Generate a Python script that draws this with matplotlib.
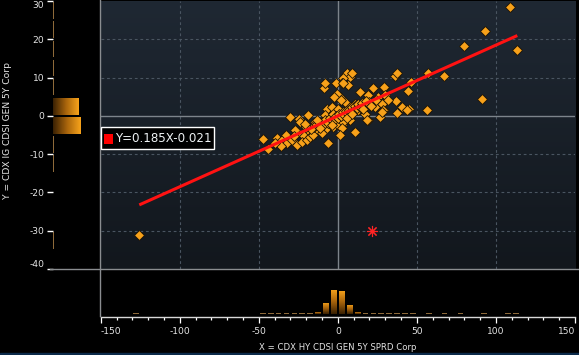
import numpy as np
import matplotlib
matplotlib.use("Agg")
import matplotlib.pyplot as plt
from matplotlib.colors import LinearSegmentedColormap
from matplotlib.patches import Rectangle
from matplotlib.lines import Line2D

plt.rcParams['font.family'] = ['Liberation Sans Narrow', 'DejaVu Sans Condensed', 'DejaVu Sans']
plt.rcParams['axes.unicode_minus'] = False

# ---------------- data ----------------
x_vals = [-125.6, 108.9, 93.3, 80.0, 113.5, 67.3, 56.8, 91.4, 56.6, 45.2,
          44.6, 36.8, 40.4, 37.2, 36.1, 37.6, 29.2, 29.2, 46.3, 43.5,
          22.4, 29.4, 14.0, 19.3, 25.6, 29.8, 31.9, 27.7, 23.5, 28.7,
          26.7, 19.3, 17.2, 12.9, 10.8, 7.7, 4.5, 1.4, -0.7, 7.7,
          10.8, 18.2, 2.4, 27.7, 5.6, 7.7, 3.4, 6.6, 2.4, 8.8,
          -8.6, -8.1, -1.2, 3.1, -2.2, 2.0, -47.2, -44.2, -30.3, -24.6,
          -23.9, -19.1, -7.1, -3.9, -8.1, -5.0, -1.8, 1.4, 0.3, -14.5,
          -11.3, -16.5, -13.4, -18.7, -21.9, -25.0, -27.1, -38.7, -35.5, -32.4,
          -29.2, -26.0, -22.9, -19.7, -17.6, -15.5, -10.2, -7.1, -2.9, 0.3,
          3.4, -6.0, 2.4, 1.4,
          -12, -10, -9, -8, -6, -5, -4, -3, -2, -1,
          0, 1, 2, 3, 4, 5, 6, 7, 8, 9,
          10, 11, 12, 13, 14, 15, -15, -17, -20, -21,
          -13, -11, -4, 6, 9, 16, 20, 21, 18, 24,
          -33, -28, -36, -40]
y_vals = [-31.0, 28.5, 22.1, 18.3, 17.3, 10.4, 11.2, 4.5, 1.5, 1.7,
          6.5, 3.8, 2.3, 0.8, 10.4, 11.2, 7.4, 1.5, 8.9, 1.5,
          7.2, 7.6, 6.3, 5.4, 5.0, 5.4, 4.1, 3.2, 2.3, 1.5,
          -0.3, -1.1, 0.6, 1.5, 3.2, 2.3, 3.7, 5.0, 5.8, -1.1,
          -4.2, -1.1, -2.4, 1.0, 11.1, 10.2, 9.8, 8.0, 8.5, 11.1,
          7.2, 8.5, 8.6, 8.6, 5.0, 4.1, -6.0, -8.6, -0.3, -0.7,
          -1.6, 0.2, 1.9, 2.3, 0.2, -0.7, 0.2, 1.0, 1.9, -1.6,
          -2.0, -2.9, -3.7, -4.2, -5.0, -4.2, -3.7, -5.9, -6.3, -7.2,
          -6.3, -7.6, -6.8, -6.3, -5.5, -5.0, -4.6, -3.3, -2.9, -2.4,
          -1.6, -7.2, -3.3, -5.0,
          -2.5, -1.5, -2.2, -1.0, -1.8, -0.5, -1.2, 0.5, -0.8, 0.0,
          -0.5, 0.4, 0.0, 1.0, 0.3, 1.2, 0.8, 1.6, 1.0, 2.2,
          1.5, 2.5, 2.0, 3.0, 2.2, 3.3, -3.0, -3.5, -3.0, -2.2,
          -1.0, -3.2, -2.5, -0.5, 0.5, 1.8, 3.5, 2.5, 4.0, 4.2,
          -5.0, -5.2, -7.8, -7.0]

fit_slope = 0.185
fit_intercept = -0.021

star_x = [21.4]
star_y = [-30.0]

# X histogram: bin left edges (width 5) and bar heights in % of the tallest bar
x_bin_left = [-130, -50, -45, -40, -35, -30, -25, -20, -15, -10, -5, 0, 5, 10,
              15, 20, 25, 30, 35, 40, 45, 55, 65, 75, 90, 105, 110]
x_bin_pct = [4, 4, 4, 4, 4, 4, 4, 4, 11, 48, 100, 96, 38, 10,
             4, 4, 4, 4, 4, 4, 4, 4, 4, 4, 4, 4, 4]

# Y histogram: bin lower edges (width 5) and bar lengths in % of the longest bar
y_bin_low = [-35, -15, -10, -5, 0, 5, 10, 15, 20, 25]
y_bin_pct = [3.7, 3.7, 3.7, 100, 93, 3.7, 3.7, 3.7, 3.7, 3.7]

x_ticks = [-150, -100, -50, 0, 50, 100, 150]
y_ticks = [-40, -30, -20, -10, 0, 10, 20, 30]
x_label = "X = CDX HY CDSI GEN 5Y SPRD Corp"
y_label = "Y = CDX IG CDSI GEN 5Y Corp"

# ---------------- figure ----------------
W, H = 579, 355
fig = plt.figure(figsize=(W / 100, H / 100), dpi=100, facecolor='black')


def box(x0, y0, x1, y1):
    return [x0 / W, 1 - y1 / H, (x1 - x0) / W, (y1 - y0) / H]


ax = fig.add_axes(box(100.7, 1, 575, 269))
axl = fig.add_axes(box(52.5, 1, 100.7, 269))
axb = fig.add_axes(box(100.7, 269, 575, 316.7))

txt_col = '#e4e4e4'

# main scatter panel
bg_cmap = LinearSegmentedColormap.from_list('bg', ['#1f2833', '#12171d'])
ax.imshow(np.linspace(0, 1, 200).reshape(-1, 1), extent=[-150, 150, -40, 30],
          origin='upper', aspect='auto', cmap=bg_cmap, zorder=0)
for v in [-100, -50, 50, 100]:
    ax.axvline(v, color='#4a5561', lw=0.8, ls=(0, (2.5, 2.5)), zorder=1)
for v in [20, 10, -10, -20, -30]:
    ax.axhline(v, color='#4a5561', lw=0.8, ls=(0, (2.5, 2.5)), zorder=1)
ax.axvline(0, color='#7d848b', lw=1.0, zorder=1)
ax.axhline(0, color='#7d848b', lw=1.0, zorder=1)

ax.plot(x_vals, y_vals, ls='', marker='D', ms=4.6, mfc='#f7a11a',
        mec='#1a1205', mew=0.6, zorder=3)
xs = np.array([min(x_vals), max(x_vals)])
ax.plot(xs, fit_slope * xs + fit_intercept, color='#ff1212', lw=2.2,
        solid_capstyle='butt', zorder=4)
ax.plot(star_x, star_y, ls='', marker=(8, 2, 0), ms=8, color='#ff2424',
        mew=0.8, zorder=4)
ax.set_xlim(-150, 150)
ax.set_ylim(-40, 30)
ax.set_xticks([])
ax.set_yticks([])
for s in ax.spines.values():
    s.set_visible(False)

# histogram gradient
bar_cmap = LinearSegmentedColormap.from_list('bar', ['#3a2103', '#a8640c', '#f7a31b'])
dash_col = '#8e6a3a'


def paint(axh, bars, vals, horizontal):
    for b, v in zip(bars, vals):
        if v < 8:
            b.set_facecolor(dash_col)
            continue
        x0, y0 = b.get_x(), b.get_y()
        w, h = b.get_width(), b.get_height()
        arr = np.linspace(0, 1, 64).reshape(1, -1) if horizontal else np.linspace(0, 1, 64).reshape(-1, 1)
        im = axh.imshow(arr, extent=[x0, x0 + w, y0, y0 + h], origin='lower',
                        aspect='auto', cmap=bar_cmap, zorder=2)
        im.set_clip_path(b)
        b.set_facecolor('none')


# left (Y) histogram
axl.set_facecolor('black')
y_centers = [v + 2.5 for v in y_bin_low]
hb = axl.barh(y_centers, y_bin_pct, height=4.3, left=0, lw=0)
paint(axl, hb, y_bin_pct, True)
axl.set_xlim(0, 178)
axl.set_ylim(-40, 30)
axl.set_xticks([])
axl.set_yticks(y_ticks)
axl.set_yticklabels([str(t) for t in y_ticks])
axl.tick_params(axis='y', direction='out', length=4.3, width=1.0, color='white',
                labelcolor=txt_col, labelsize=6.6, pad=1.5)
for lab in axl.get_yticklabels():
    if lab.get_text() == '30':
        lab.set_va('top')
    elif lab.get_text() == '-40':
        lab.set_va('bottom')
for s in axl.spines.values():
    s.set_visible(False)

# bottom (X) histogram
axb.set_facecolor('black')
x_centers = [v + 2.5 for v in x_bin_left]
vb = axb.bar(x_centers, x_bin_pct, width=3.6, bottom=0, lw=0)
paint(axb, vb, x_bin_pct, False)
axb.set_xlim(-150, 150)
axb.set_ylim(-9.9, 186.4)
axb.set_yticks([])
axb.set_xticks(x_ticks)
axb.set_xticklabels([str(t) for t in x_ticks])
axb.set_xticks(np.arange(-150, 151, 10), minor=True)
axb.tick_params(axis='x', which='major', direction='out', length=4.4, width=0.9,
                color='white', labelcolor=txt_col, labelsize=6.6, pad=3)
axb.tick_params(axis='x', which='minor', direction='out', length=2.4, width=0.9,
                color='white')
xl = axb.get_xticklabels()
xl[0].set_ha('left')
xl[-1].set_ha('right')
for k, s in axb.spines.items():
    s.set_visible(k == 'bottom')
axb.spines['bottom'].set_color('#d8d8d8')
axb.spines['bottom'].set_linewidth(1.0)

# axis titles
fig.text(8 / W, 1 - 131 / H, y_label, rotation=90, ha='center', va='center',
         color=txt_col, fontsize=6.6)
fig.text(338 / W, 1 - 347 / H, x_label, ha='center', va='center',
         color=txt_col, fontsize=6.1)

# frame lines
fig.add_artist(Line2D([100.4 / W, 100.4 / W], [1, 1 - 316 / H], color='#8a8d90',
                      lw=1.0, transform=fig.transFigure, zorder=6))
fig.add_artist(Line2D([50 / W, 578 / W], [1 - 268.8 / H, 1 - 268.8 / H],
                      color='#8a8d90', lw=1.0, transform=fig.transFigure, zorder=6))
fig.add_artist(Rectangle((0, 0), 1, 2.5 / H, transform=fig.transFigure,
                         color='#0b2a4a', zorder=6))

# fit legend box
fig.add_artist(Rectangle((100.8 / W, 1 - 149 / H), 113 / W, 22 / H,
                         transform=fig.transFigure, facecolor='black',
                         edgecolor='white', lw=1.0, zorder=7))
fig.add_artist(Rectangle((104 / W, 1 - 144 / H), 9 / W, 10 / H,
                         transform=fig.transFigure, facecolor='#ff0000',
                         edgecolor='none', zorder=8))
fig.text(115 / W, 1 - 138.5 / H, f"Y={fit_slope}X{fit_intercept:+}", ha='left',
         va='center', color='#eef2f4', fontsize=8.6, zorder=8)

fig.savefig('out.png', dpi=100, facecolor='black')
